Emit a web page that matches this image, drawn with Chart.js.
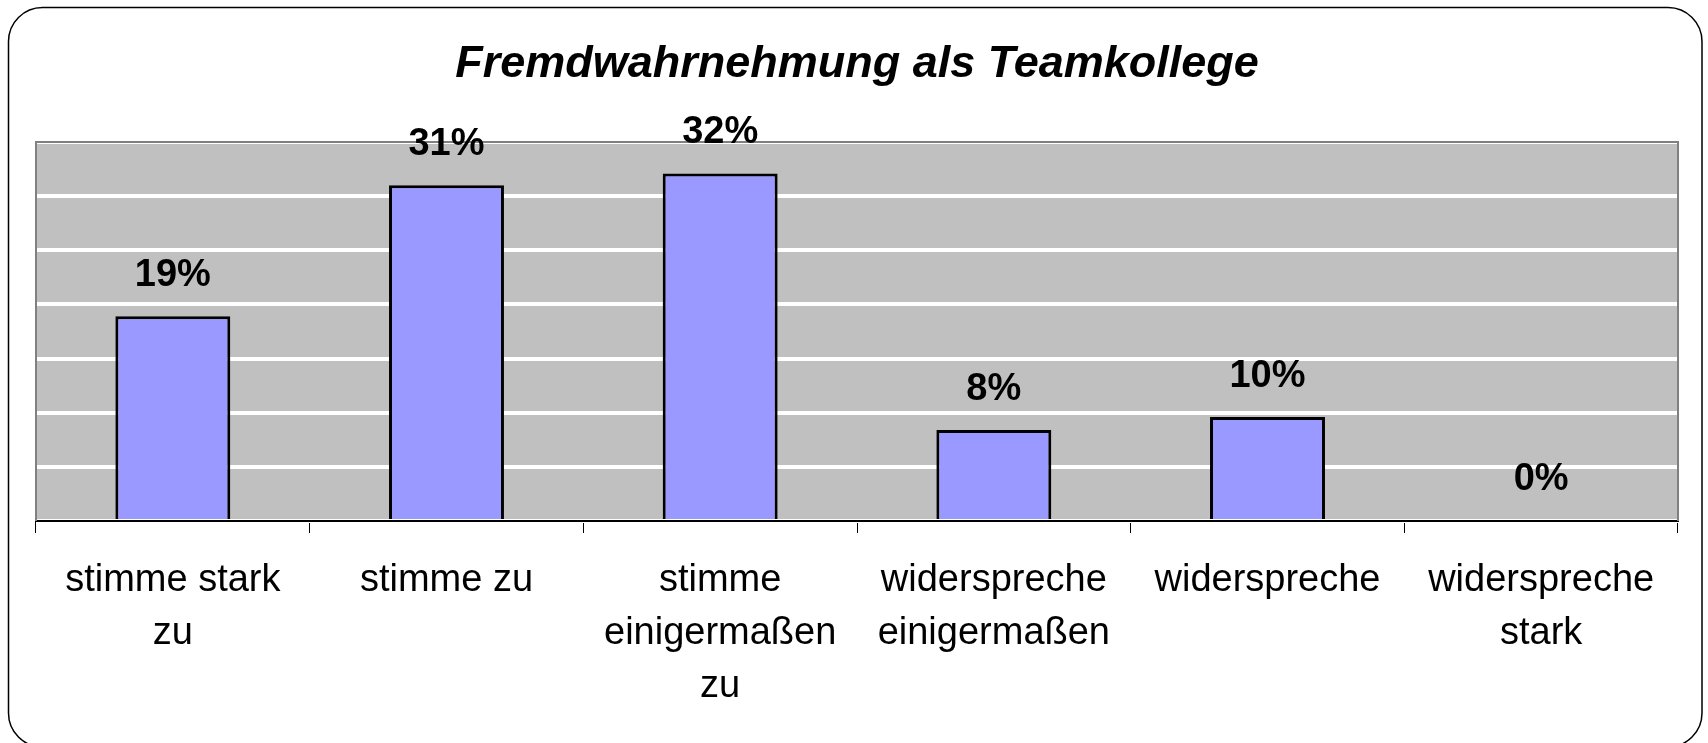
<!DOCTYPE html>
<html>
<head>
<meta charset="utf-8">
<title>Fremdwahrnehmung als Teamkollege</title>
<script src="https://cdn.jsdelivr.net/npm/chart.js@4.4.1/dist/chart.umd.min.js"></script>
<style>
    html, body { margin: 0; padding: 0; background: #ffffff; }
    #wrap { width: 1708px; height: 743px; }
</style>
</head>
<body>
<div id="wrap"><canvas id="teamChart" width="1708" height="743"></canvas></div>
<script>
// chart data
var chartTitle = 'Fremdwahrnehmung als Teamkollege'
var categories = [
    ['stimme stark', 'zu'],
    'stimme zu',
    ['stimme', 'einigermaßen', 'zu'],
    ['widerspreche', 'einigermaßen'],
    'widerspreche',
    ['widerspreche', 'stark']
]
var percentValues = [18.9, 31.0, 32.1, 8.4, 9.6, 0]
var yMax = 35
var yStep = 5

var fontFamily = "'Liberation Sans', Arial, Helvetica, sans-serif"

// grey plot background + rounded outer frame
var frame = {
    id: 'frame',
    beforeDraw: function (chart) {
        var c = chart.ctx
        var a = chart.chartArea
        c.save()
        c.fillStyle = '#ffffff'
        c.fillRect(0, 0, chart.width, chart.height)
        c.beginPath()
        c.roundRect(8.5, 7.5, 1693.5, 739.5, 34)
        c.lineWidth = 1.5
        c.strokeStyle = '#000000'
        c.stroke()
        c.fillStyle = '#c0c0c0'
        c.fillRect(a.left, a.top, a.right - a.left, a.bottom - a.top)
        c.restore()
    },
    afterDatasetsDraw: function (chart) {
        var c = chart.ctx
        var a = chart.chartArea
        c.save()
        c.strokeStyle = '#808080'
        c.lineWidth = 2
        c.beginPath()
        c.moveTo(a.left, a.bottom)
        c.lineTo(a.left, a.top)
        c.lineTo(a.right, a.top)
        c.lineTo(a.right, a.bottom)
        c.stroke()

        // value labels above the bars
        var meta = chart.getDatasetMeta(0)
        c.fillStyle = '#000000'
        c.font = 'bold 38px ' + fontFamily
        c.textAlign = 'center'
        c.textBaseline = 'middle'
        meta.data.forEach(function (bar, i) {
            c.fillText(Math.round(percentValues[i]) + '%', bar.x, bar.y - 41)
        })
        c.restore()
    }
}

var ctx = document.getElementById('teamChart')
var teamChart = new Chart(ctx, {
    type: 'bar',
    data: {
        labels: categories,
        datasets: [
            {
                data: percentValues,
                backgroundColor: '#9999ff',
                borderColor: '#000000',
                borderWidth: 3,
                barPercentage: 0.42,
                categoryPercentage: 1.0
            }
        ]
    },
    options: {
        responsive: false,
        animation: false,
        devicePixelRatio: 1,
        layout: {
            padding: { top: 0, left: 36, right: 30, bottom: 0 }
        },
        plugins: {
            legend: { display: false },
            tooltip: { enabled: false },
            title: {
                display: true,
                text: chartTitle,
                color: '#000000',
                font: { family: fontFamily, size: 45, weight: 'bold', style: 'italic', lineHeight: 1.2 },
                padding: { top: 38, bottom: 50 }
            }
        },
        scales: {
            x: {
                grid: {
                    offset: true,
                    drawOnChartArea: false,
                    drawTicks: true,
                    tickLength: 12,
                    color: '#000000',
                    lineWidth: 1
                },
                border: { display: true, color: '#000000', width: 2 },
                ticks: {
                    color: '#000000',
                    padding: 21,
                    maxRotation: 0,
                    autoSkip: false,
                    font: { family: fontFamily, size: 38, lineHeight: 53 / 38 }
                },
                afterFit: function (scale) {
                    scale.height = 222
                }
            },
            y: {
                min: 0,
                max: yMax,
                ticks: { display: false, stepSize: yStep },
                grid: {
                    color: '#ffffff',
                    lineWidth: 4,
                    drawTicks: false
                },
                border: { display: false },
                afterFit: function (scale) {
                    scale.width = 0
                }
            }
        }
    },
    plugins: [frame]
})
</script>
</body>
</html>
